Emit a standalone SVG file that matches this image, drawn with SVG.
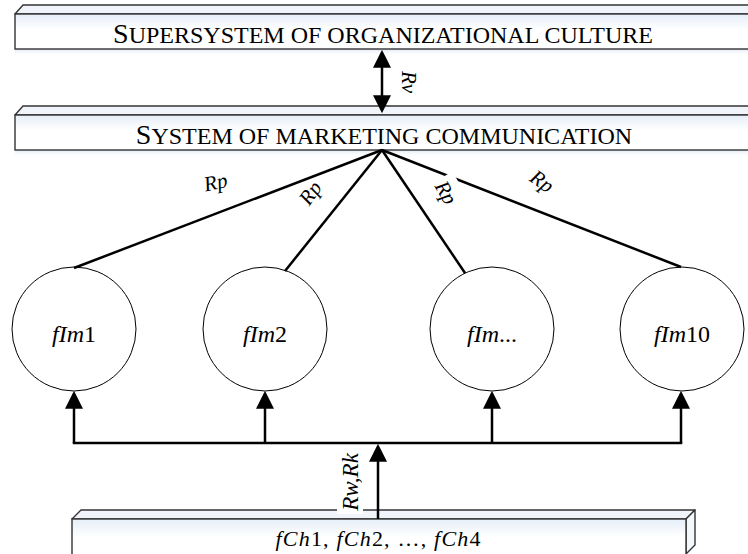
<svg xmlns="http://www.w3.org/2000/svg" width="748" height="554" viewBox="0 0 748 554">
<defs>
<linearGradient id="front" x1="0" y1="0" x2="0" y2="1">
<stop offset="0" stop-color="#e6eef8"/>
<stop offset="0.45" stop-color="#ffffff"/>
<stop offset="1" stop-color="#ffffff"/>
</linearGradient>
<linearGradient id="shadow" x1="0" y1="0" x2="0" y2="1">
<stop offset="0" stop-color="#dfe8f4"/>
<stop offset="1" stop-color="#ffffff" stop-opacity="0"/>
</linearGradient>
<marker id="ah" markerUnits="userSpaceOnUse" markerWidth="18" markerHeight="18" viewBox="0 0 17 17" refX="14" refY="8.5" orient="auto-start-reverse">
<path d="M0,0 L17,8.5 L0,17 Z" fill="#000"/>
</marker>
<style>
.face{fill:url(#front);stroke:#333;stroke-width:1.4}
.top{fill:#f1f5fb;stroke:#333;stroke-width:1.4;stroke-linejoin:round}
.side{fill:#f4f7fc;stroke:#333;stroke-width:1.4;stroke-linejoin:round}
.sh{fill:url(#shadow)}
.title{font-family:"Liberation Serif","Times New Roman",serif;fill:#000}
.node{fill:#fff;stroke:#000;stroke-width:1}
.lbl{font-family:"Liberation Serif","Times New Roman",serif;font-size:24px;fill:#000}
.it{font-style:italic}
.con{stroke:#000;stroke-width:2.5;fill:none}
.arr{stroke:#000;stroke-width:2.5;fill:none;marker-end:url(#ah)}
.rl{font-family:"Liberation Serif","Times New Roman",serif;font-style:italic;font-size:21px;fill:#000}
</style>
</defs>
<rect width="748" height="554" fill="#fff"/>

<g id="supersystem">
<rect class="sh" x="15" y="49" width="745" height="7"/>
<polygon class="top" points="15,14 23,5 760,5 760,14"/>
<rect class="face" x="15" y="14" width="745" height="35"/>
<text class="title" x="383" y="43" text-anchor="middle"><tspan font-size="28">S</tspan><tspan font-size="24">UPERSYSTEM OF ORGANIZATIONAL CULTURE</tspan></text>
</g>

<g id="system">
<rect class="sh" x="15" y="150" width="745" height="7"/>
<polygon class="top" points="15,115 23,106 760,106 760,115"/>
<rect class="face" x="15" y="115" width="745" height="35"/>
<text class="title" x="384" y="143.5" text-anchor="middle"><tspan font-size="28">S</tspan><tspan font-size="24">YSTEM OF MARKETING COMMUNICATION</tspan></text>
</g>

<g id="fim1">
<circle class="node" cx="74" cy="329" r="62"/>
<text class="lbl" x="74" y="342" text-anchor="middle"><tspan class="it">fIm</tspan>1</text>
</g>
<g id="fim2">
<circle class="node" cx="265" cy="329" r="62"/>
<text class="lbl" x="265" y="342" text-anchor="middle"><tspan class="it">fIm</tspan>2</text>
</g>
<g id="fim3">
<circle class="node" cx="492" cy="329" r="62"/>
<text class="lbl" x="492" y="342" text-anchor="middle"><tspan class="it">fIm</tspan>...</text>
</g>
<g id="fim10">
<circle class="node" cx="682" cy="329" r="62"/>
<text class="lbl" x="682" y="342" text-anchor="middle"><tspan class="it">fIm</tspan>10</text>
</g>

<g id="fch">
<polygon class="top" points="72,519 81,510 695,510 686,519"/>
<polygon class="side" points="686,519 695,510 695,545 686,554"/>
<rect class="face" x="72" y="519" width="614" height="40"/>
<text class="lbl" x="378" y="546" text-anchor="middle" style="font-size:22px" textLength="205" lengthAdjust="spacing"><tspan class="it">fCh</tspan>1, <tspan class="it">fCh</tspan>2, …, <tspan class="it">fCh</tspan>4</text>
</g>

<g id="connectors">
<line class="con" x1="382" y1="53" x2="382" y2="110" marker-start="url(#ah)" marker-end="url(#ah)"/>
<line class="con" x1="382" y1="150" x2="74" y2="268"/>
<line class="con" x1="382" y1="150" x2="285" y2="271"/>
<line class="con" x1="382" y1="150" x2="465" y2="273"/>
<line class="con" x1="382" y1="150" x2="681" y2="267"/>
<polyline class="con" points="74,443 681,443" stroke-linecap="square"/>
<line class="arr" x1="74" y1="443" x2="74" y2="394"/>
<line class="arr" x1="265" y1="443" x2="265" y2="394"/>
<line class="arr" x1="492" y1="443" x2="492" y2="394"/>
<line class="arr" x1="681" y1="443" x2="681" y2="394"/>
<rect x="337" y="449" width="26" height="65" fill="#fff"/>
<line class="arr" x1="378" y1="519" x2="378" y2="447"/>
<text class="rl" x="0" y="0" transform="translate(402,82) rotate(90)" text-anchor="middle">Rv</text>
<text class="rl" x="0" y="0" transform="translate(217,189) rotate(-12)" text-anchor="middle">Rp</text>
<text class="rl" x="0" y="0" transform="translate(316,197) rotate(-55)" text-anchor="middle">Rp</text>
<rect x="-15" y="-23" width="30" height="29" fill="#fff" transform="translate(440,196) rotate(60)"/>
<text class="rl" x="0" y="0" transform="translate(440,196) rotate(60)" text-anchor="middle">Rp</text>
<text class="rl" x="0" y="0" transform="translate(538,187) rotate(35)" text-anchor="middle">Rp</text>
<text class="rl" x="0" y="0" transform="translate(358,482) rotate(-90)" text-anchor="middle" style="font-size:23px">Rw,Rk</text>
</g>
</svg>
